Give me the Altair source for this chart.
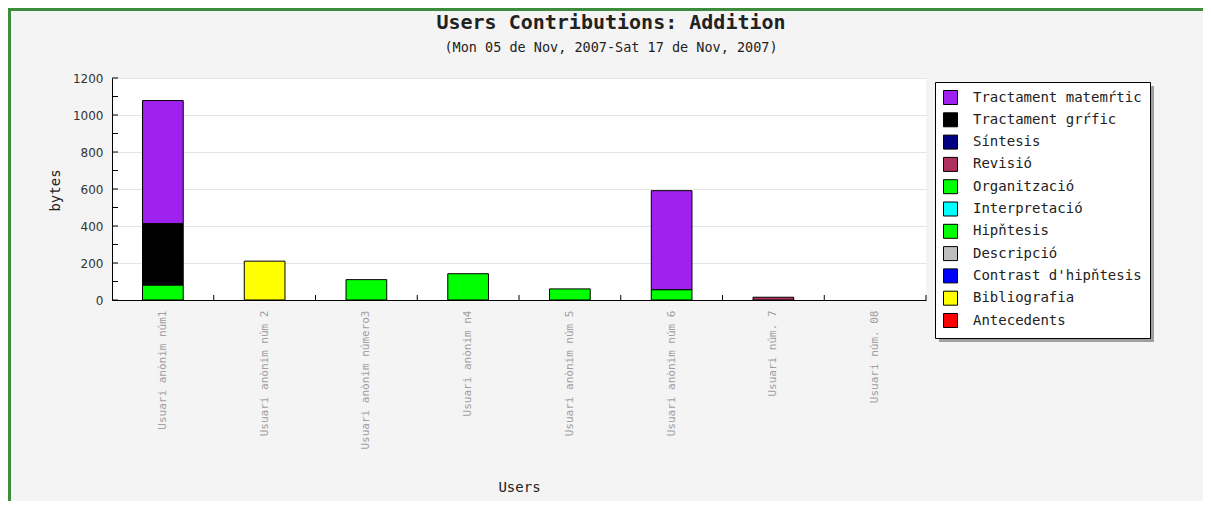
import altair as alt
import pandas as pd

# ---------------- data ----------------
users = [
    "Usuari anònim núm1",
    "Usuari anònim núm 2",
    "Usuari anònim número3",
    "Usuari anònim n4",
    "Usuari anònim núm 5",
    "Usuari anònim núm 6",
    "Usuari núm. 7",
    "Usuari núm. 08",
]

# legend order (top to bottom)
series = [
    "Tractament matemŕtic",
    "Tractament grŕfic",
    "Síntesis",
    "Revisió",
    "Organització",
    "Interpretació",
    "Hipňtesis",
    "Descripció",
    "Contrast d'hipňtesis",
    "Bibliografia",
    "Antecedents",
]
colors = [
    "#a020f0", "#000000", "#000080", "#b03060", "#00ff00", "#00ffff",
    "#00ff00", "#bebebe", "#0000ff", "#ffff00", "#ff0000",
]

tractament_matematic = [666, 0, 0, 0, 0, 536, 0, 0]
tractament_grafic = [332, 0, 0, 0, 0, 0, 0, 0]
sintesis = [0, 0, 0, 0, 0, 0, 0, 0]
revisio = [0, 0, 0, 0, 0, 0, 15, 0]
organitzacio = [0, 0, 0, 0, 0, 0, 0, 0]
interpretacio = [0, 0, 0, 0, 0, 0, 0, 0]
hipotesis = [80, 0, 110, 142, 60, 55, 0, 0]
descripcio = [0, 0, 0, 0, 0, 0, 0, 0]
contrast = [0, 0, 0, 0, 0, 0, 0, 0]
bibliografia = [0, 210, 0, 0, 0, 0, 0, 0]
antecedents = [0, 0, 0, 0, 0, 0, 0, 0]

y_ticks = [0, 100, 200, 300, 400, 500, 600, 700, 800, 900, 1000, 1100, 1200]
y_labels = [0, 200, 400, 600, 800, 1000, 1200]

title_text = "Users Contributions: Addition"
subtitle_text = "(Mon 05 de Nov, 2007-Sat 17 de Nov, 2007)"

# ---------------- table ----------------
series_values = [
    tractament_matematic, tractament_grafic, sintesis, revisio, organitzacio,
    interpretacio, hipotesis, descripcio, contrast, bibliografia, antecedents,
]
rows = []
for i, (name, vals) in enumerate(zip(series, series_values)):
    for u, v in zip(users, vals):
        if v > 0:
            rows.append({"user": u, "serie": name, "bytes": v, "rank": len(series) - i})
df = pd.DataFrame(rows)

W, H = 814, 222
PAD_L, PAD_T = 104, 70
TOTAL_W, TOTAL_H = 1195, 493
MONO = "DejaVu Sans Mono"
LX, LY, LW, LH = 823, 4, 215, 256

x_scale = alt.Scale(domain=users, paddingInner=0, paddingOuter=0)
y_scale = alt.Scale(domain=[0, 1200], nice=False)

x_axis = alt.Axis(title="Users", labelAngle=270, labelFont=MONO, labelFontSize=11,
                  labelColor="#a0a0a0", ticks=False, domainColor="black",
                  labelPadding=10, titleFont=MONO, titleFontSize=14,
                  titleFontWeight="normal", titleColor="#222",
                  titleY=187, titleBaseline="middle")
y_axis = alt.Axis(values=y_labels, format="d", labelOverlap=False, title="bytes",
                  titleFont=MONO, titleFontSize=14,
                  titleFontWeight="normal", titleColor="#222",
                  titleX=-57, titleY=112, titleAngle=270, titleAlign="center",
                  titleBaseline="middle", ticks=False, labelFont="DejaVu Sans",
                  labelFontSize=12, labelColor="#333", labelPadding=9,
                  labelFlush=False, gridColor="#e4e4e4", domainColor="black")

bars = alt.Chart(df).mark_bar(
    width=alt.RelativeBandSize(0.4), stroke="black", strokeWidth=1
).encode(
    x=alt.X("user:N", scale=x_scale, sort=users, axis=x_axis),
    y=alt.Y("bytes:Q", scale=y_scale, stack="zero", axis=y_axis),
    color=alt.Color("serie:N", scale=alt.Scale(domain=series, range=colors),
                    legend=alt.Legend(title=None, orient="none", legendX=LX, legendY=LY,
                                      fillColor="white", strokeColor="black", padding=8,
                                      symbolType="square", symbolSize=196,
                                      symbolStrokeColor="black", symbolStrokeWidth=1,
                                      labelFont=MONO, labelFontSize=14, labelColor="#222",
                                      rowPadding=3.3, labelOffset=15, labelLimit=300)),
    order=alt.Order("rank:Q", sort="ascending"),
)

yt = alt.Chart(pd.DataFrame({"t": y_ticks})).mark_rule(color="black", strokeWidth=1).encode(
    y=alt.Y("t:Q", scale=y_scale, axis=y_axis),
    x=alt.value(0),
    x2=alt.value(6),
)

xt = alt.Chart(pd.DataFrame({"user": users})).mark_rule(color="black", strokeWidth=1).encode(
    x=alt.X("user:N", scale=x_scale, sort=users, bandPosition=1, axis=x_axis),
    y=alt.value(H - 5),
    y2=alt.value(H),
)

one = alt.Data(values=[{"k": 1}])
shadow = alt.Chart(one).mark_rect(color="#8a8a8a", opacity=0.8).encode(
    x=alt.value(LX + 4), x2=alt.value(LX + LW + 4),
    y=alt.value(LY + 4), y2=alt.value(LY + LH + 4),
)
frame_left = alt.Chart(one).mark_rule(color="#3d8b3d", strokeWidth=3).encode(
    x=alt.value(-PAD_L + 1.5), y=alt.value(-PAD_T), y2=alt.value(TOTAL_H - PAD_T),
)
frame_top = alt.Chart(one).mark_rule(color="#3d8b3d", strokeWidth=3).encode(
    y=alt.value(-PAD_T + 1.5), x=alt.value(-PAD_L), x2=alt.value(TOTAL_W - PAD_L),
)

chart = alt.layer(bars, shadow, yt, xt, frame_left, frame_top).properties(
    width=W,
    height=H,
    title=alt.TitleParams(text=title_text, subtitle=subtitle_text, font=MONO, fontSize=20,
                          fontWeight="bold", color="#222", subtitleFont=MONO,
                          subtitleFontSize=13.5, subtitleColor="#222", subtitlePadding=8,
                          anchor="middle", frame="group", dx=92, dy=48, offset=0),
    autosize=alt.AutoSizeParams(type="none"),
    padding={"left": PAD_L, "top": PAD_T, "right": TOTAL_W - PAD_L - W,
             "bottom": TOTAL_H - PAD_T - H},
    background="#f4f4f4",
).configure_view(fill="white", stroke=None)

chart.save("out.html", embed_options={"renderer": "svg", "actions": False})
